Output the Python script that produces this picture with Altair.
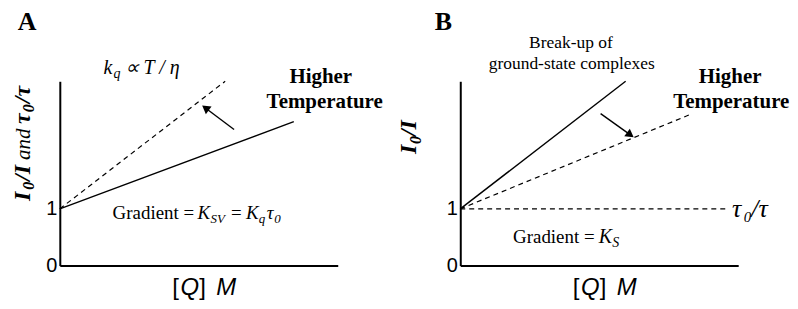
import altair as alt
import pandas as pd

# ---------------- data ----------------
x_domain = [0, 10]
y_domain = [0, 3.25]
y_ticks = [0, 1]

# Panel A
a_solid_x = [0, 8.42]
a_solid_y = [1, 2.54]
a_dashed_x = [0, 5.95]
a_dashed_y = [1, 3.25]
a_arrow_x = [6.27, 5.24]
a_arrow_y = [2.40, 2.78]
a_arrow_heading = 307

# Panel B
b_solid_x = [0, 5.95]
b_solid_y = [1, 3.25]
b_dashed_x = [0, 8.35]
b_dashed_y = [1, 2.68]
b_flat_x = [0, 9.6]
b_flat_y = [1, 1]
b_arrow_x = [5.05, 6.12]
b_arrow_y = [2.68, 2.305]
b_arrow_heading = 126

# annotation texts: (text, x, y, style, size, align, baseline, angle)
a_texts = [
    ("A", -1.18, 4.515, "serif-b", 26, "center", "top", 0),
    ("I", -1.075, 1.14, "serif-bi", 24, "left", "alphabetic", 270),
    ("0", -0.935, 1.335, "serif-bi", 16, "left", "alphabetic", 270),
    ("/I", -1.075, 1.493, "serif-bi", 24, "left", "alphabetic", 270),
    ("and", -1.075, 1.862, "serif-i", 21, "left", "alphabetic", 270),
    ("τ", -1.075, 2.495, "serif-bi", 24, "left", "alphabetic", 270),
    ("0", -0.935, 2.706, "serif-bi", 16, "left", "alphabetic", 270),
    ("/τ", -1.075, 2.864, "serif-bi", 24, "left", "alphabetic", 270),
    ("k", 1.57, 3.37, "serif-i", 20, "left", "alphabetic", 0),
    ("q", 1.935, 3.30, "serif-i", 14, "left", "alphabetic", 0),
    ("∝ T / η", 2.33, 3.37, "serif-i", 20, "left", "alphabetic", 0),
    ("Higher", 9.39, 3.215, "serif-b", 21, "center", "alphabetic", 0),
    ("Temperature", 9.53, 2.776, "serif-b", 21, "center", "alphabetic", 0),
    ("Gradient =", 1.90, 0.826, "serif", 19, "left", "alphabetic", 0),
    ("K", 4.95, 0.826, "serif-i", 19, "left", "alphabetic", 0),
    ("SV", 5.42, 0.755, "serif-i", 13, "left", "alphabetic", 0),
    ("=", 6.16, 0.826, "serif", 19, "left", "alphabetic", 0),
    ("K", 6.70, 0.826, "serif-i", 19, "left", "alphabetic", 0),
    ("q", 7.16, 0.755, "serif-i", 13, "left", "alphabetic", 0),
    ("τ", 7.45, 0.826, "serif-i", 19, "left", "alphabetic", 0),
    ("0", 7.72, 0.755, "serif-i", 13, "left", "alphabetic", 0),
    ("[", 4.05, -0.527, "sans", 24, "left", "alphabetic", 0),
    ("Q", 4.34, -0.527, "sans-i", 24, "left", "alphabetic", 0),
    ("]", 5.02, -0.527, "sans", 24, "left", "alphabetic", 0),
    ("M", 5.63, -0.527, "sans-i", 24, "left", "alphabetic", 0),
]

b_texts = [
    ("B", -0.61, 4.515, "serif-b", 26, "center", "top", 0),
    ("I", -1.58, 1.968, "serif-bi", 24, "left", "alphabetic", 270),
    ("0", -1.43, 2.143, "serif-bi", 16, "left", "alphabetic", 270),
    ("/I", -1.58, 2.284, "serif-bi", 24, "left", "alphabetic", 270),
    ("Break-up of", 3.98, 3.83, "serif", 17.5, "center", "alphabetic", 0),
    ("ground-state complexes", 4.01, 3.46, "serif", 17.5, "center", "alphabetic", 0),
    ("Higher", 9.71, 3.215, "serif-b", 21, "center", "alphabetic", 0),
    ("Temperature", 9.75, 2.776, "serif-b", 21, "center", "alphabetic", 0),
    ("τ", 9.78, 0.861, "serif-i", 26, "left", "alphabetic", 0),
    ("0", 10.20, 0.773, "serif-i", 15, "left", "alphabetic", 0),
    ("/τ", 10.47, 0.861, "serif-i", 26, "left", "alphabetic", 0),
    ("Gradient =", 1.90, 0.404, "serif", 19, "left", "alphabetic", 0),
    ("K", 4.98, 0.404, "serif-i", 20, "left", "alphabetic", 0),
    ("S", 5.47, 0.334, "serif-i", 14, "left", "alphabetic", 0),
    ("[", 4.05, -0.527, "sans", 24, "left", "alphabetic", 0),
    ("Q", 4.34, -0.527, "sans-i", 24, "left", "alphabetic", 0),
    ("]", 5.02, -0.527, "sans", 24, "left", "alphabetic", 0),
    ("M", 5.63, -0.527, "sans-i", 24, "left", "alphabetic", 0),
]

# ---------------- styling ----------------
STYLES = {
    "serif": ("Liberation Serif", "normal", "normal"),
    "serif-i": ("Liberation Serif", "italic", "normal"),
    "serif-b": ("Liberation Serif", "normal", "bold"),
    "serif-bi": ("Liberation Serif", "italic", "bold"),
    "sans": ("Liberation Sans", "normal", "normal"),
    "sans-i": ("Liberation Sans", "italic", "normal"),
}


def enc_x():
    return alt.X("x:Q", scale=alt.Scale(domain=x_domain, nice=False, zero=False),
                 axis=alt.Axis(labels=False, ticks=False, grid=False, title=None,
                               domainWidth=2, domainColor="black"))


def enc_y():
    return alt.Y("y:Q", scale=alt.Scale(domain=y_domain, nice=False, zero=False),
                 axis=alt.Axis(values=y_ticks, ticks=False, grid=False, title=None,
                               labelFont="Liberation Sans", labelFontSize=20,
                               labelColor="black", labelPadding=3, labelFlush=False,
                               labelOverlap=False, domainWidth=2, domainColor="black"))


def line_layer(xs, ys, dashed):
    df = pd.DataFrame({"x": xs, "y": ys})
    kw = dict(color="black", strokeWidth=1.2 if dashed else 1.4)
    if dashed:
        kw["strokeDash"] = [5, 4]
    return alt.Chart(df).mark_line(**kw).encode(x=enc_x(), y=enc_y())


def arrow_layers(xs, ys, heading):
    shaft = alt.Chart(pd.DataFrame({"x": xs, "y": ys})).mark_line(
        color="black", strokeWidth=1.4).encode(x=enc_x(), y=enc_y())
    head = alt.Chart(pd.DataFrame({"x": [xs[1]], "y": [ys[1]], "angle": [heading]})).mark_point(
        shape="triangle-up", filled=True, size=90, color="black", opacity=1).encode(
        x=enc_x(), y=enc_y(), angle=alt.Angle("angle:Q", scale=None))
    return [shaft, head]


def text_layers(texts):
    df = pd.DataFrame(texts, columns=["text", "x", "y", "style", "size", "align", "baseline", "angle"])
    layers = []
    for (style, align, baseline), sub in df.groupby(["style", "align", "baseline"]):
        font, fstyle, fweight = STYLES[style]
        layers.append(
            alt.Chart(sub).mark_text(font=font, fontStyle=fstyle, fontWeight=fweight,
                                     align=align, baseline=baseline, color="black").encode(
                x=enc_x(), y=enc_y(), text="text:N",
                size=alt.Size("size:Q", scale=None, legend=None),
                angle=alt.Angle("angle:Q", scale=None))
        )
    return layers


panel_a = alt.layer(
    line_layer(a_solid_x, a_solid_y, False),
    line_layer(a_dashed_x, a_dashed_y, True),
    *arrow_layers(a_arrow_x, a_arrow_y, a_arrow_heading),
    *text_layers(a_texts),
).properties(width=279, height=185)

panel_b = alt.layer(
    line_layer(b_solid_x, b_solid_y, False),
    line_layer(b_dashed_x, b_dashed_y, True),
    line_layer(b_flat_x, b_flat_y, True),
    *arrow_layers(b_arrow_x, b_arrow_y, b_arrow_heading),
    *text_layers(b_texts),
).properties(width=279, height=185)

chart = alt.hconcat(panel_a, panel_b, spacing=123, bounds="flush").properties(
    padding={"left": 3, "top": 0, "right": 0, "bottom": 0}
).configure(background="white").configure_view(stroke=None)

chart.save("out.html", embed_options={"renderer": "svg", "actions": False})
